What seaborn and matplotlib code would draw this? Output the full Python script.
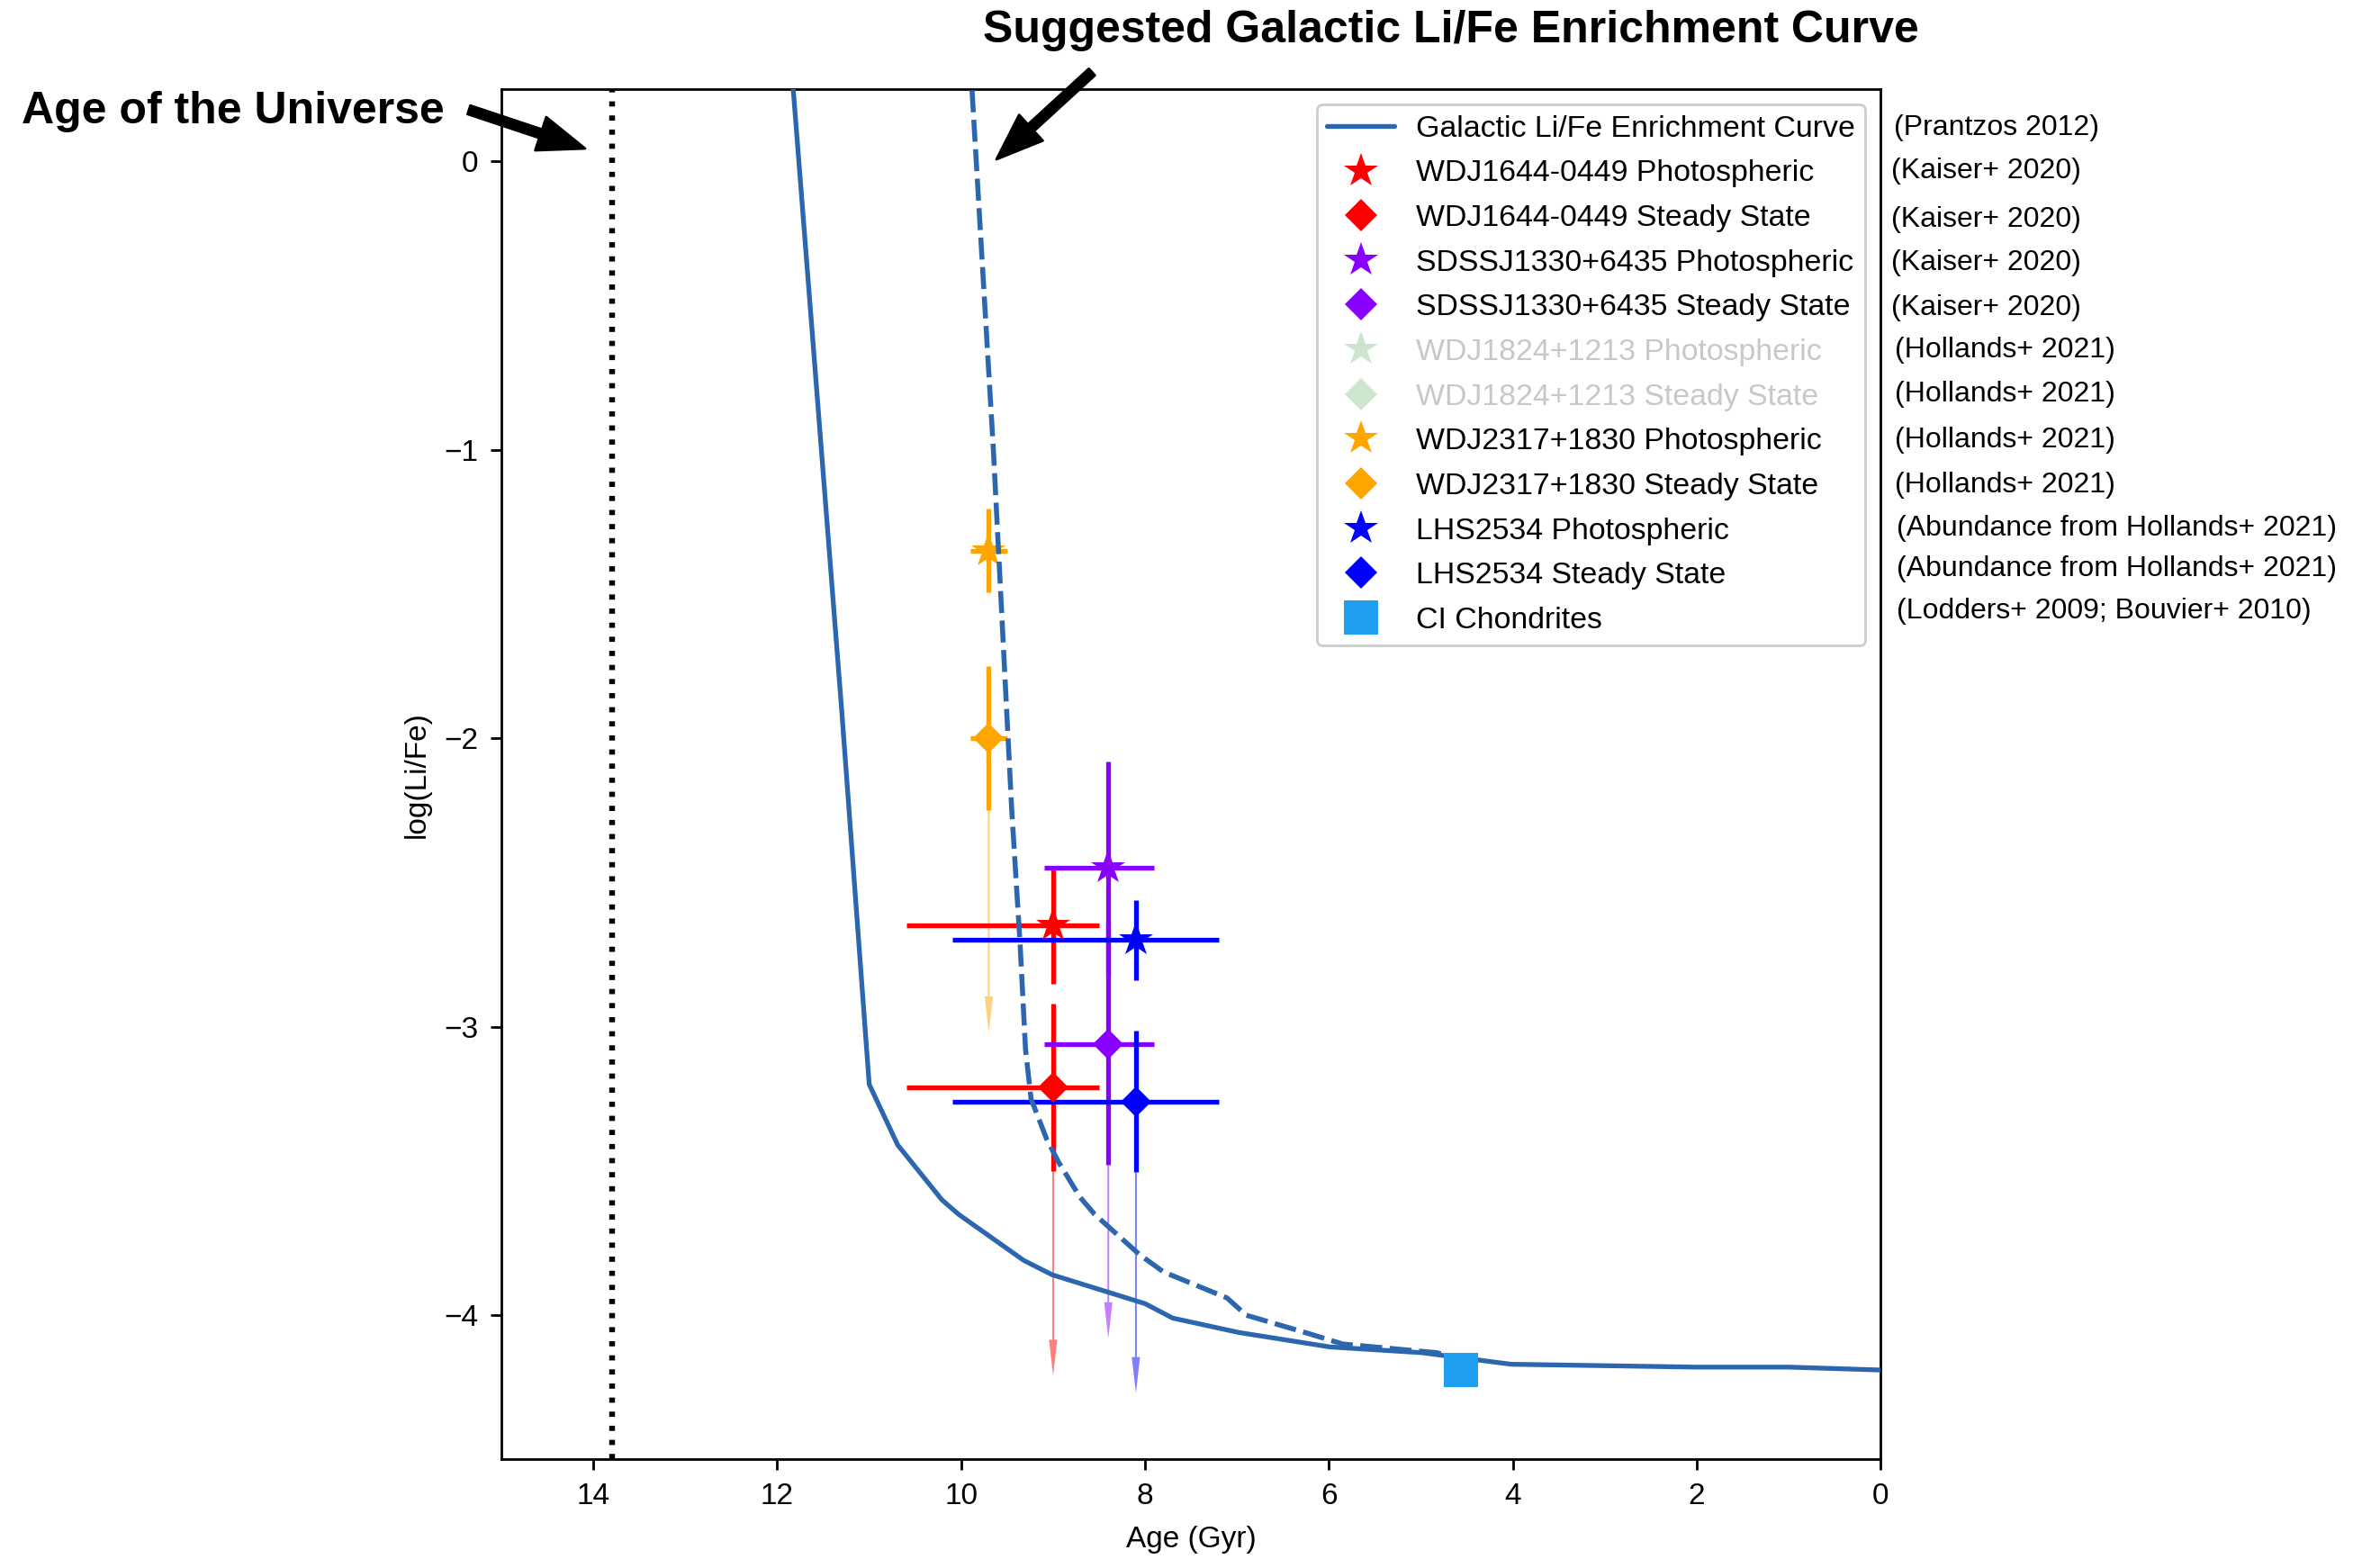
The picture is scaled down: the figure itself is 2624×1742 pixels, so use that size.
import matplotlib
matplotlib.use("Agg")
import matplotlib.pyplot as plt
import seaborn as sns
import pandas as pd
from matplotlib.lines import Line2D
from matplotlib.patches import FancyArrowPatch

# ---------------- data ----------------
curve_age = [11.9, 11.3, 11.0, 10.69, 10.21, 10.03, 9.32, 9.01, 8.0, 7.70, 6.98, 5.99, 4.99, 4.02, 2.0, 1.0, 0.0]
curve_logli = [0.55, -1.9, -3.2, -3.41, -3.60, -3.65, -3.81, -3.86, -3.96, -4.01, -4.06, -4.11, -4.13, -4.17, -4.18, -4.18, -4.19]

suggested_age = [9.92, 9.65, 9.45, 9.36, 9.30, 9.24, 9.07, 8.94, 8.71, 8.55, 8.06, 7.80, 7.11, 6.90, 6.26, 5.85, 4.83, 4.6]
suggested_logli = [0.45, -1.0, -2.25, -2.71, -3.08, -3.25, -3.39, -3.47, -3.59, -3.65, -3.79, -3.85, -3.94, -4.00, -4.06, -4.10, -4.13, -4.15]

wd_names = ["WDJ1644-0449", "SDSSJ1330+6435", "WDJ2317+1830", "LHS2534"]
wd_colors = ["#ff0000", "#8800ff", "#ffa500", "#0000ff"]
wd_age = [9.0, 8.4, 9.7, 8.1]
wd_age_err_young = [0.5, 0.5, 0.2, 0.9]
wd_age_err_old = [1.6, 0.7, 0.2, 2.0]
photo_logli = [-2.65, -2.45, -1.35, -2.70]
photo_err = [0.20, 0.37, 0.145, 0.14]
steady_logli = [-3.21, -3.06, -2.00, -3.26]
steady_err = [0.29, 0.42, 0.25, 0.245]
limit_end = [-4.21, -4.08, -3.02, -4.27]

ci_age = [4.57]
ci_logli = [-4.19]

universe_age = 13.8

legend_labels = [
    "Galactic Li/Fe Enrichment Curve",
    "WDJ1644-0449 Photospheric", "WDJ1644-0449 Steady State",
    "SDSSJ1330+6435 Photospheric", "SDSSJ1330+6435 Steady State",
    "WDJ1824+1213 Photospheric", "WDJ1824+1213 Steady State",
    "WDJ2317+1830 Photospheric", "WDJ2317+1830 Steady State",
    "LHS2534 Photospheric", "LHS2534 Steady State",
    "CI Chondrites",
]
ref_labels = [
    "(Prantzos 2012)", "(Kaiser+ 2020)", "(Kaiser+ 2020)", "(Kaiser+ 2020)", "(Kaiser+ 2020)",
    "(Hollands+ 2021)", "(Hollands+ 2021)", "(Hollands+ 2021)", "(Hollands+ 2021)",
    "(Abundance from Hollands+ 2021)", "(Abundance from Hollands+ 2021)",
    "(Lodders+ 2009; Bouvier+ 2010)",
]

# ---------------- style ----------------
sns.set_style("ticks")
plt.rcParams["font.family"] = ["Liberation Sans", "DejaVu Sans"]
plt.rcParams["text.color"] = "black"
plt.rcParams["axes.labelcolor"] = "black"
plt.rcParams["xtick.color"] = "black"
plt.rcParams["ytick.color"] = "black"
plt.rcParams["axes.linewidth"] = 1.0
plt.rcParams["xtick.major.size"] = 4.3
plt.rcParams["ytick.major.size"] = 4.3
plt.rcParams["xtick.major.width"] = 1.0
plt.rcParams["ytick.major.width"] = 1.0
plt.rcParams["xtick.major.pad"] = 5
plt.rcParams["ytick.major.pad"] = 5
plt.rcParams["axes.edgecolor"] = "black"

W, H, DPI = 2624, 1742, 200
fig = plt.figure(figsize=(W / DPI, H / DPI), dpi=DPI)
ax = fig.add_axes([557 / W, 1 - 1621.4 / H, (2089.4 - 557) / W, (1621.4 - 99) / H])

CURVE = "#2b66ae"

# data points
for i in range(len(wd_names)):
    c = wd_colors[i]
    xerr = [[wd_age_err_young[i]], [wd_age_err_old[i]]]
    ax.errorbar([wd_age[i]], [photo_logli[i]], xerr=xerr, yerr=[photo_err[i]],
                fmt="none", ecolor=c, elinewidth=1.9, capsize=0, zorder=2)
    ax.errorbar([wd_age[i]], [steady_logli[i]], xerr=xerr, yerr=[steady_err[i]],
                fmt="none", ecolor=c, elinewidth=1.9, capsize=0, zorder=2)
    ax.plot([wd_age[i]], [photo_logli[i]], marker="*", ls="none", color=c, ms=14.5, mew=0, zorder=2.1)
    ax.plot([wd_age[i]], [steady_logli[i]], marker="D", ls="none", color=c, ms=8.7, mew=0, zorder=2.1)
    y0 = steady_logli[i] - steady_err[i]
    ax.arrow(wd_age[i], y0, 0, limit_end[i] - y0, width=0.02, head_width=0.09,
             head_length=0.125, length_includes_head=True, color=c, alpha=0.5, lw=0, zorder=1.5)

# curves
sns.lineplot(x=curve_age, y=curve_logli, ax=ax, sort=False, estimator=None,
             color=CURVE, lw=1.9, zorder=3)
sns.lineplot(x=suggested_age, y=suggested_logli, ax=ax, sort=False, estimator=None,
             color=CURVE, lw=2.0, linestyle=(0, (4.4, 1.5)), zorder=3)

ax.plot(ci_age, ci_logli, marker="s", ls="none", color="#1e9ff0", ms=13.7, mew=0, zorder=4)
ax.axvline(universe_age, color="black", lw=2.3, linestyle=(0, (0.9, 1.55)), zorder=1)

ax.set_xlim(15, 0)
ax.set_ylim(-4.5, 0.25)
ax.set_xticks(range(0, 16, 2))
ax.set_yticks([0, -1, -2, -3, -4])
ax.tick_params(labelsize=12, top=False, right=False)
ax.set_xlabel("Age (Gyr)", fontsize=12, labelpad=6)
ax.set_ylabel("log(Li/Fe)", fontsize=12, labelpad=5)
for s in ax.spines.values():
    s.set_visible(True)
    s.set_linewidth(1.0)
    s.set_color("black")

# legend
handles = [Line2D([], [], color=CURVE, lw=1.9)]
leg_colors = [wd_colors[0], wd_colors[1], "green", wd_colors[2], wd_colors[3]]
leg_alpha = [1, 1, 0.2, 1, 1]
for c, a in zip(leg_colors, leg_alpha):
    handles.append(Line2D([], [], marker="*", ls="none", color=c, alpha=a, ms=14.5, mew=0))
    handles.append(Line2D([], [], marker="D", ls="none", color=c, alpha=a, ms=9.3, mew=0))
handles.append(Line2D([], [], marker="s", ls="none", color="#1e9ff0", ms=13.7, mew=0))
leg = ax.legend(handles, legend_labels, loc="upper right", fontsize=12.2, labelspacing=0.55,
                handlelength=2.2, handletextpad=0.7, borderaxespad=0.5, borderpad=0.35,
                frameon=True, fancybox=True, framealpha=1, edgecolor="0.8")
leg.get_frame().set_linewidth(1.0)
for t in leg.get_texts():
    t.set_color("black")
for t in leg.get_texts()[5:7]:
    t.set_color("#c8c8c8")

# reference column
ref_x = [2103.5, 2101, 2101, 2101, 2101, 2105, 2105, 2105, 2105, 2107, 2107, 2107]
ref_y = [141.5, 190, 244, 292, 342, 389, 438, 489.5, 539, 587, 632, 679]
for t, x, y in zip(ref_labels, ref_x, ref_y):
    fig.text(x / W, 1 - y / H, t, fontsize=11.5, ha="left", va="center", color="black")

# annotations
fig.text(24 / W, 1 - 137 / H, "Age of the Universe", fontsize=18, fontweight="bold",
         ha="left", va="baseline", color="black")
fig.text(1092 / W, 1 - 47 / H, "Suggested Galactic Li/Fe Enrichment Curve", fontsize=18,
         fontweight="bold", ha="left", va="baseline", color="black")


def fig_arrow(tail, tip):
    arr = FancyArrowPatch(posA=(tail[0] / W, 1 - tail[1] / H), posB=(tip[0] / W, 1 - tip[1] / H),
                          transform=fig.transFigure,
                          arrowstyle="simple,head_length=1.87,head_width=1.4,tail_width=0.36",
                          mutation_scale=10, color="black", shrinkA=0, shrinkB=0)
    fig.add_artist(arr)


fig_arrow((521, 122), (650, 165))
fig_arrow((1213, 80), (1107, 177))

fig.savefig("out.png", dpi=DPI)
